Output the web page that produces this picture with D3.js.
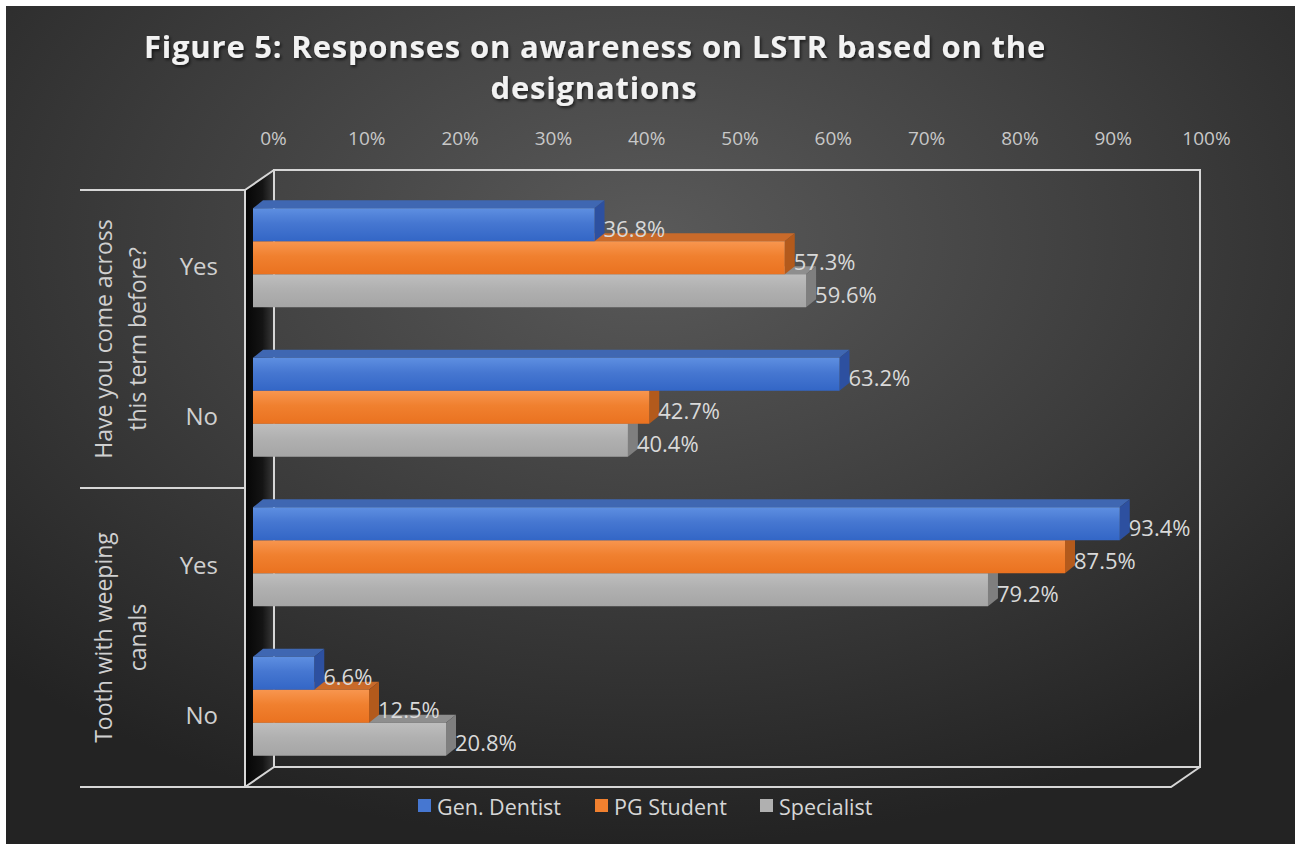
<!DOCTYPE html>
<html>
<head>
<meta charset="utf-8">
<script src="https://cdn.jsdelivr.net/npm/d3@7/dist/d3.min.js"></script>
<style>
  html, body { margin: 0; padding: 0; background: #ffffff; }
  svg { display: block; }
  text { font-family: "Open Sans", "Noto Sans", sans-serif; }
</style>
</head>
<body>
<script>
// Survey responses (%) by designation
const rowLabels = ["Yes", "No", "Yes", "No"];
const groupLabels = [["Have you come across", "this term before?"], ["Tooth with weeping", "canals"]];
const seriesNames = ["Gen. Dentist", "PG Student", "Specialist"];
const genDentist = [36.8, 63.2, 93.4, 6.6];
const pgStudent = [57.3, 42.7, 87.5, 12.5];
const specialist = [59.6, 40.4, 79.2, 20.8];
const tickValues = [0, 10, 20, 30, 40, 50, 60, 70, 80, 90, 100];

const seriesValues = [genDentist, pgStudent, specialist];
const palette = [
  { top: "#5e8fe1", mid: "#4677d1", bot: "#3366c6", cap: "#3f67b2", side: "#2d50a0" },
  { top: "#f8964f", mid: "#f0802f", bot: "#ea7220", cap: "#c96a2a", side: "#b35a1c" },
  { top: "#bebebe", mid: "#b0b0b0", bot: "#a5a5a5", cap: "#8e8e8e", side: "#7f7f7f" }
];

const W = 1295, H = 844;
const svg = d3.select("body").append("svg").attr("width", W).attr("height", H);
const defs = svg.append("defs");

// Background: dark radial fill inside a thin white margin
const bg = defs.append("radialGradient").attr("id", "bg")
  .attr("cx", "50%").attr("cy", "28%").attr("r", "72%");
bg.append("stop").attr("offset", "0%").attr("stop-color", "#5a5a5a");
bg.append("stop").attr("offset", "55%").attr("stop-color", "#3c3c3c");
bg.append("stop").attr("offset", "100%").attr("stop-color", "#232323");
svg.append("rect").attr("x", 6).attr("y", 6).attr("width", W - 6).attr("height", H - 6).attr("fill", "url(#bg)");

seriesNames.forEach((s, i) => {
  const g = defs.append("linearGradient").attr("id", "bar" + i)
    .attr("x1", 0).attr("y1", 0).attr("x2", 0).attr("y2", 1);
  g.append("stop").attr("offset", "0%").attr("stop-color", palette[i].top);
  g.append("stop").attr("offset", "45%").attr("stop-color", palette[i].mid);
  g.append("stop").attr("offset", "100%").attr("stop-color", palette[i].bot);
});
const wallGrad = defs.append("linearGradient").attr("id", "wall")
  .attr("x1", 0).attr("y1", 0).attr("x2", 1).attr("y2", 0);
wallGrad.append("stop").attr("offset", "0%").attr("stop-color", "#050505");
wallGrad.append("stop").attr("offset", "60%").attr("stop-color", "#141414");
wallGrad.append("stop").attr("offset", "100%").attr("stop-color", "#3a3a3a");

const shadow = defs.append("filter").attr("id", "tshadow").attr("x", "-5%").attr("y", "-20%").attr("width", "110%").attr("height", "140%");
shadow.append("feDropShadow").attr("dx", 1.5).attr("dy", 2).attr("stdDeviation", 1.5).attr("flood-color", "#000").attr("flood-opacity", 0.6);

// Title
const title = svg.append("text").attr("x", 595).attr("y", 58)
  .attr("text-anchor", "middle").attr("font-size", 31).attr("font-weight", 700)
  .attr("letter-spacing", 0.8)
  .attr("fill", "#f2f2f2").attr("filter", "url(#tshadow)");
title.append("tspan").attr("x", 595).attr("dy", 0).text("Figure 5: Responses on awareness on LSTR based on the");
title.append("tspan").attr("x", 594).attr("dy", 41).text("designations");

// 3D frame geometry
const front = { left: 245, top: 190, bottom: 787 };
const back = { left: 274, top: 170, right: 1200, bottom: 767 };
const lineCol = "#d6d6d6";

// left side wall
svg.append("path")
  .attr("d", `M${front.left},${front.top}L${back.left},${back.top}L${back.left},${back.bottom}L${front.left},${front.bottom}Z`)
  .attr("fill", "url(#wall)");

// back wall edges
svg.append("path")
  .attr("d", `M${back.left},${back.bottom}L${back.left},${back.top}L${back.right},${back.top}L${back.right},${back.bottom}L${back.left},${back.bottom}`)
  .attr("fill", "none").attr("stroke", lineCol).attr("stroke-width", 2);
// floor & front edges
const frontRight = back.right - (back.left - front.left);
svg.append("path")
  .attr("d", `M${front.left},${front.top}L${back.left},${back.top}M${front.left},${front.top}L${front.left},${front.bottom}L${frontRight},${front.bottom}L${back.right},${back.bottom}M${front.left},${front.bottom}L${back.left},${back.bottom}`)
  .attr("fill", "none").attr("stroke", lineCol).attr("stroke-width", 2);

// Top value axis (tick labels only)
const xTick = d3.scaleLinear().domain([0, 100]).range([273, 1206]);
const axis = svg.append("g").attr("transform", "translate(0,148)")
  .call(d3.axisTop(xTick).tickValues(tickValues).tickFormat(d => d + "%").tickSize(0));
axis.select(".domain").remove();
axis.selectAll("text").attr("font-size", 19).attr("fill", "#c8c8c8")
  .attr("font-family", "'Open Sans', sans-serif");

// Bar scales
const x = d3.scaleLinear().domain([0, 100]).range([253, 1181]);
const yRow = d3.scaleBand().domain(d3.range(rowLabels.length)).range([183, 781]);
const blockH = 99;
const ySer = d3.scaleBand().domain(seriesNames).range([0, blockH]);
const dx = 10, dy = 8;

const bars = svg.append("g");
rowLabels.forEach((lbl, r) => {
  const rowTop = yRow(r) + (yRow.step() - blockH) / 2;
  // draw lower bars first so upper bars sit on top of them
  for (let si = seriesNames.length - 1; si >= 0; si--) {
    const v = seriesValues[si][r];
    const y0 = rowTop + ySer(seriesNames[si]);
    const h = ySer.bandwidth();
    const x0 = x(0), x1 = x(v);
    const g = bars.append("g");
    g.append("path")
      .attr("d", `M${x0},${y0}L${x0 + dx},${y0 - dy}L${x1 + dx},${y0 - dy}L${x1},${y0}Z`)
      .attr("fill", palette[si].cap);
    g.append("path")
      .attr("d", `M${x1},${y0}L${x1 + dx},${y0 - dy}L${x1 + dx},${y0 + h - dy}L${x1},${y0 + h}Z`)
      .attr("fill", palette[si].side);
    g.append("rect").attr("x", x0).attr("y", y0).attr("width", x1 - x0).attr("height", h)
      .attr("fill", `url(#bar${si})`);
  }
  for (let si = 0; si < seriesNames.length; si++) {
    const v = seriesValues[si][r];
    const y0 = rowTop + ySer(seriesNames[si]);
    bars.append("text")
      .attr("x", x(v) + 9).attr("y", y0 + ySer.bandwidth() / 2 + 3)
      .attr("dominant-baseline", "central")
      .attr("font-size", 22).attr("fill", "#d9d9d9")
      .text(v.toFixed(1) + "%");
  }
  svg.append("text")
    .attr("x", 218).attr("y", yRow(r) + yRow.step() / 2 + 8)
    .attr("dominant-baseline", "central").attr("text-anchor", "end")
    .attr("font-size", 24).attr("fill", "#d0d0d0")
    .text(lbl);
});

// Group labels and separators
const sepY = [front.top, (front.top + front.bottom) / 2 - 0.5, front.bottom];
sepY.forEach(yv => {
  svg.append("line").attr("x1", 80).attr("x2", front.left).attr("y1", yv).attr("y2", yv)
    .attr("stroke", lineCol).attr("stroke-width", 2);
});
groupLabels.forEach((lines, gi) => {
  const yc = (sepY[gi] + sepY[gi + 1]) / 2;
  lines.forEach((ln, li) => {
    const xc = 103 + li * 34;
    svg.append("text")
      .attr("transform", `translate(${xc},${yc}) rotate(-90)`)
      .attr("text-anchor", "middle").attr("dominant-baseline", "central")
      .attr("font-size", 23).attr("fill", "#d0d0d0")
      .text(ln);
  });
});

// Legend
const legendX = [418, 595, 760];
const legend = svg.append("g");
seriesNames.forEach((s, i) => {
  legend.append("rect").attr("x", legendX[i]).attr("y", 799).attr("width", 13).attr("height", 13)
    .attr("fill", palette[i].mid);
  legend.append("text").attr("x", legendX[i] + 19).attr("y", 806)
    .attr("dominant-baseline", "central").attr("font-size", 21.5).attr("fill", "#d6d6d6")
    .text(s);
});
</script>
</body>
</html>
